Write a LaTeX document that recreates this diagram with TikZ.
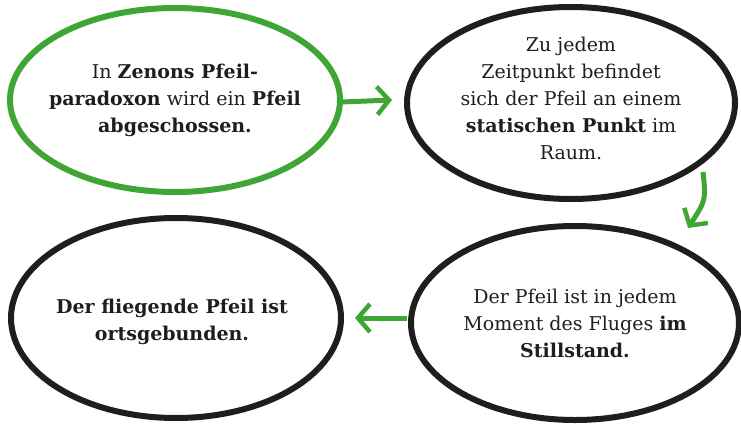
\documentclass[tikz,border=0pt]{standalone}
\usepackage{fontspec}
\setmainfont{DejaVu Serif}
\usetikzlibrary{arrows.meta}
\definecolor{grn}{HTML}{3FA535}
\definecolor{blk}{HTML}{1E1E1E}
\begin{document}
\begin{tikzpicture}[x=1pt,y=-1pt,
  txt/.style={align=center,font=\fontsize{19}{27}\selectfont,text=blk},
  conn/.style={draw=grn,line width=5pt,-{Straight Barb[length=12pt,width=28pt,line width=4.5pt]}}]
\useasboundingbox (0,0) rectangle (741,426);
\draw[draw=grn,line width=6pt] (175,100) ellipse [x radius=165,y radius=92];
\draw[draw=blk,line width=6pt] (571,103) ellipse [x radius=164,y radius=96];
\draw[draw=blk,line width=6pt] (575,323) ellipse [x radius=164,y radius=97];
\draw[draw=blk,line width=6pt] (176,318) ellipse [x radius=165,y radius=100];
\node[txt] (a) at (175,100) {In \textbf{Zenons Pfeil-}\\\textbf{paradoxon} wird ein \textbf{Pfeil}\\\textbf{abgeschossen.}};
\node[txt] (b) at (571,98) {Zu jedem\\Zeitpunkt befindet\\sich der Pfeil an einem\\\textbf{statischen Punkt} im\\Raum.};
\node[txt] (c) at (575,323) {Der Pfeil ist in jedem\\Moment des Fluges \textbf{im}\\\textbf{Stillstand.}};
\node[txt] (d) at (172,322) {\textbf{Der fliegende Pfeil ist}\\\textbf{ortsgebunden.}};
\coordinate (a1) at (342,102); \coordinate (b1) at (392,100);
\coordinate (b2) at (703,172); \coordinate (c2) at (688,228);
\coordinate (c3) at (407,318); \coordinate (d3) at (355,318);
\draw[conn] (a1) -- (b1);
\draw[conn] (b2) .. controls (706,200) .. (c2);
\draw[conn] (c3) -- (d3);
\end{tikzpicture}
\end{document}
